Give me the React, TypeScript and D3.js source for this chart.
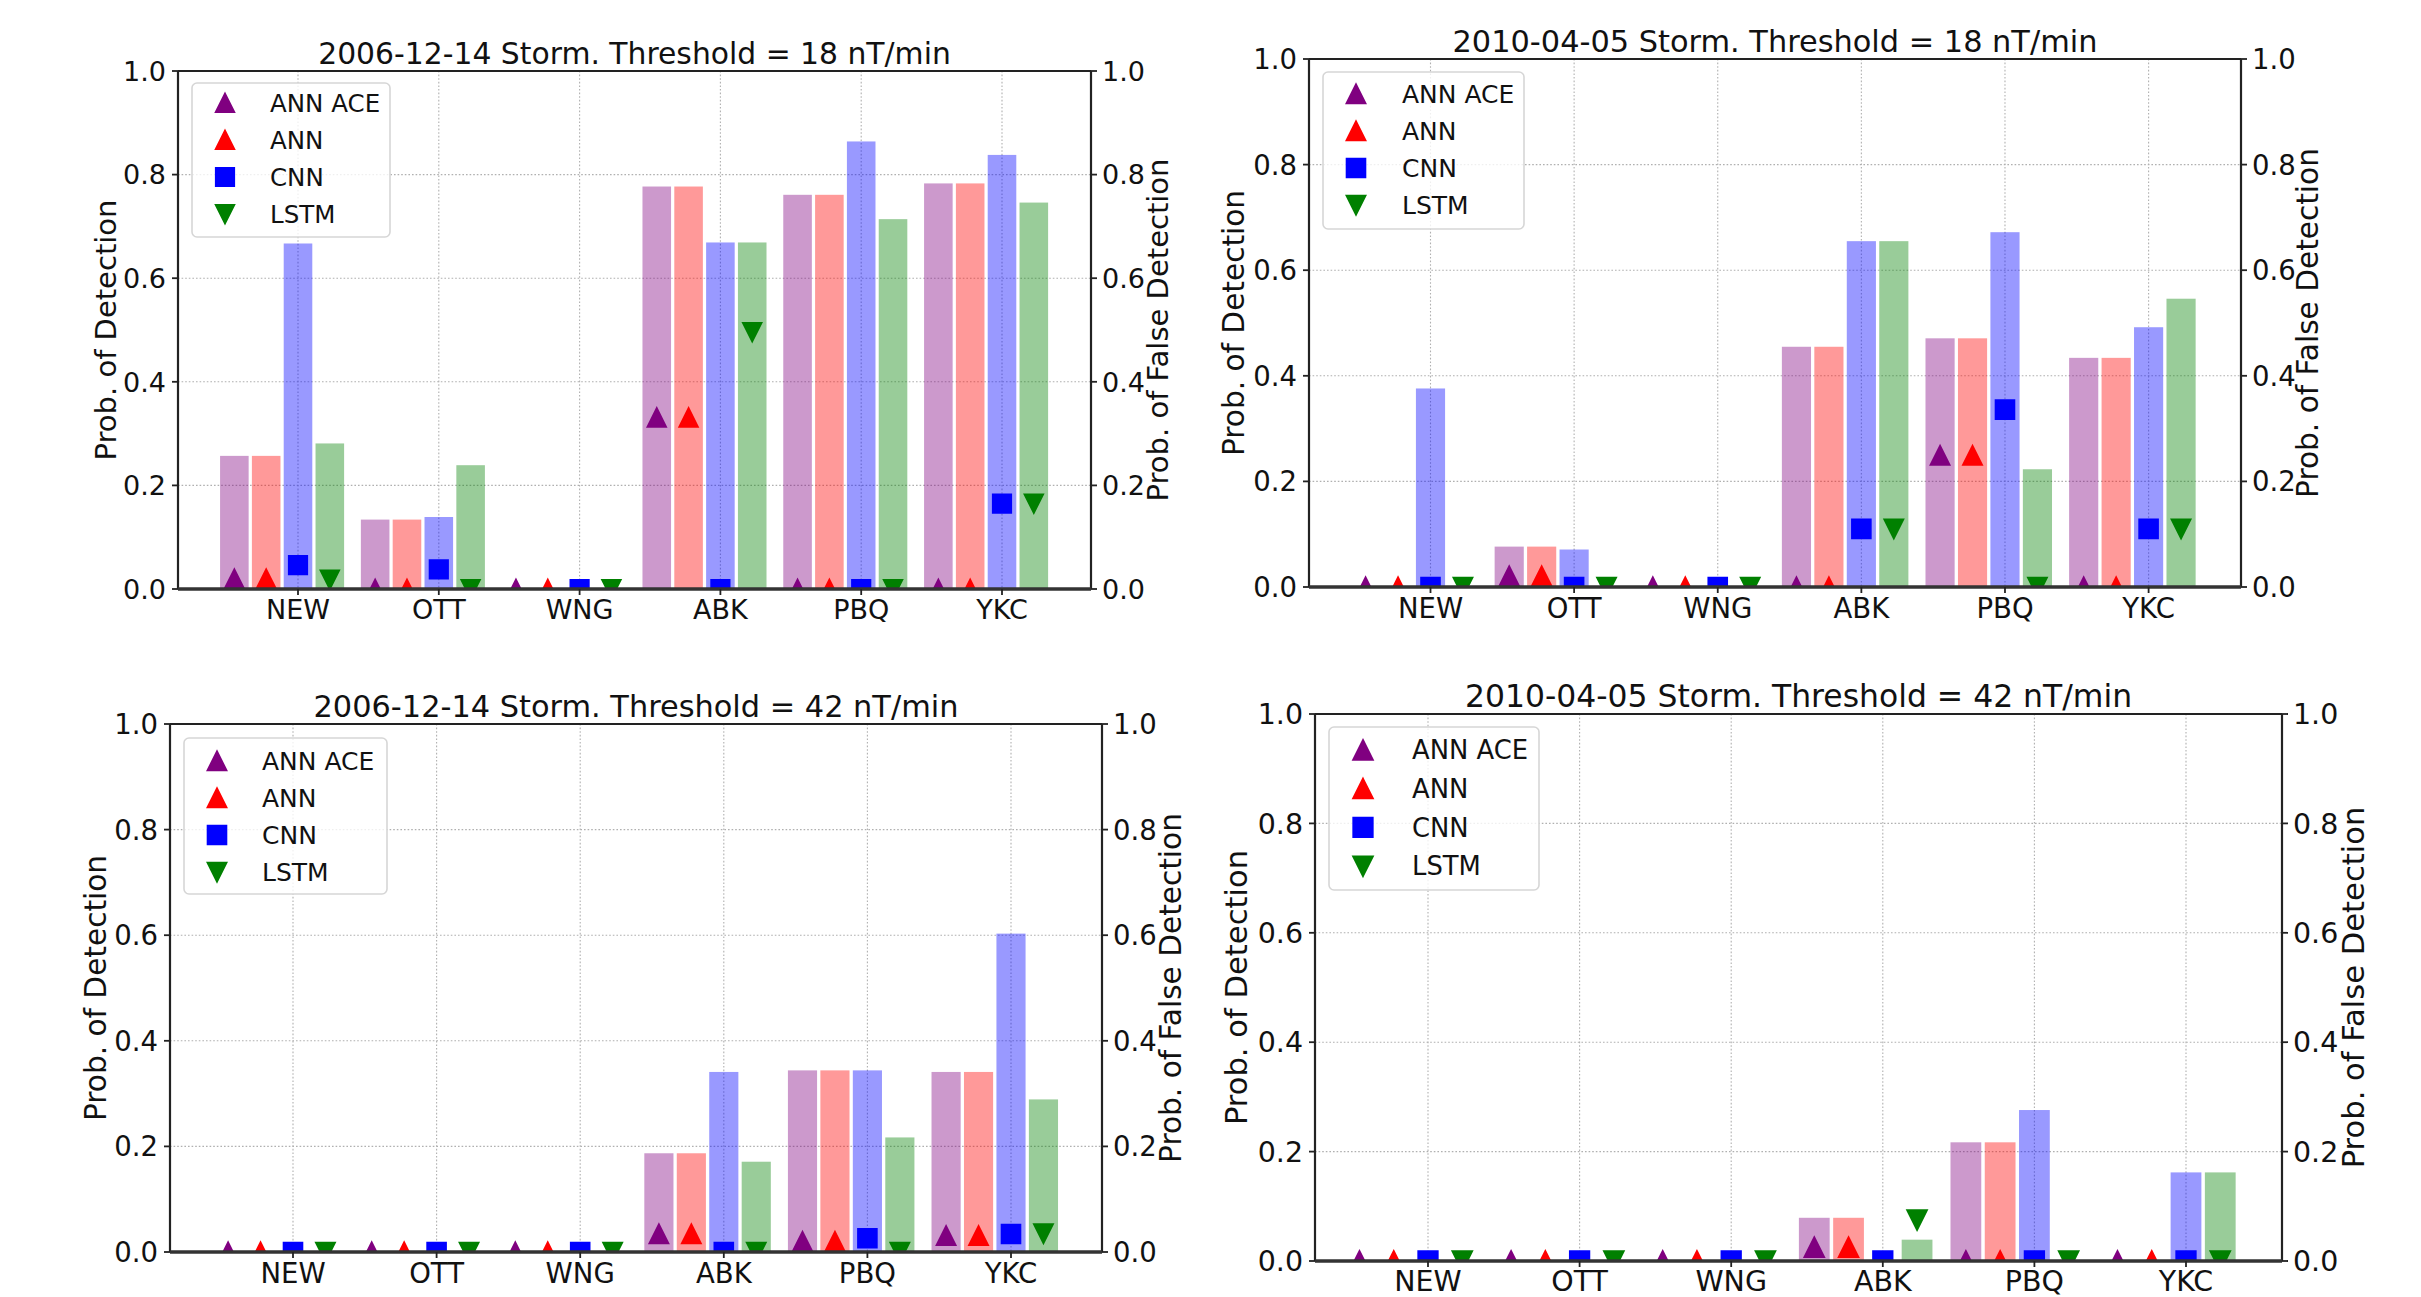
import React from "react";
import * as d3 from "d3";

// ---------- data ----------
const stations = ["NEW", "OTT", "WNG", "ABK", "PBQ", "YKC"];
const models = ["ANN ACE", "ANN", "CNN", "LSTM"];
const modelColors = ["#800080", "#ff0000", "#0000ff", "#008000"];
const modelShapes = ["up", "up", "square", "down"];
const yTicks = [0, 0.2, 0.4, 0.6, 0.8, 1.0];

const titles = [
  "2006-12-14 Storm. Threshold = 18 nT/min",
  "2010-04-05 Storm. Threshold = 18 nT/min",
  "2006-12-14 Storm. Threshold = 42 nT/min",
  "2010-04-05 Storm. Threshold = 42 nT/min",
];

// Panel A: 2006-12-14, 18 nT/min  (bars = Prob. of Detection, markers = Prob. of False Detection)
const podA_annAce = [0.257, 0.134, 0, 0.777, 0.761, 0.783];
const podA_ann = [0.257, 0.134, 0, 0.777, 0.761, 0.783];
const podA_cnn = [0.667, 0.139, 0, 0.669, 0.864, 0.838];
const podA_lstm = [0.281, 0.239, 0, 0.669, 0.714, 0.746];
const pofdA_annAce = [0.02, 0, 0, 0.331, 0, 0];
const pofdA_ann = [0.02, 0, 0, 0.331, 0, 0];
const pofdA_cnn = [0.046, 0.038, 0, 0, 0, 0.165];
const pofdA_lstm = [0.018, 0, 0, 0.496, 0, 0.165];

// Panel B: 2010-04-05, 18 nT/min
const podB_annAce = [0, 0.0765, 0, 0.455, 0.471, 0.434];
const podB_ann = [0, 0.0765, 0, 0.455, 0.471, 0.434];
const podB_cnn = [0.376, 0.071, 0, 0.655, 0.672, 0.492];
const podB_lstm = [0, 0, 0, 0.655, 0.223, 0.546];
const pofdB_annAce = [0, 0.021, 0, 0, 0.249, 0];
const pofdB_ann = [0, 0.021, 0, 0, 0.249, 0];
const pofdB_cnn = [0, 0, 0, 0.11, 0.336, 0.11];
const pofdB_lstm = [0, 0, 0, 0.11, 0, 0.11];

// Panel C: 2006-12-14, 42 nT/min
const podC_annAce = [0, 0, 0, 0.187, 0.344, 0.341];
const podC_ann = [0, 0, 0, 0.187, 0.344, 0.341];
const podC_cnn = [0, 0, 0, 0.341, 0.344, 0.603];
const podC_lstm = [0, 0, 0, 0.171, 0.217, 0.289];
const pofdC_annAce = [0, 0, 0, 0.034, 0.02, 0.031];
const pofdC_ann = [0, 0, 0, 0.034, 0.02, 0.031];
const pofdC_cnn = [0, 0, 0, 0, 0.026, 0.034];
const pofdC_lstm = [0, 0, 0, 0, 0, 0.035];

// Panel D: 2010-04-05, 42 nT/min
const podD_annAce = [0, 0, 0, 0.079, 0.217, 0];
const podD_ann = [0, 0, 0, 0.079, 0.217, 0];
const podD_cnn = [0, 0, 0, 0, 0.276, 0.162];
const podD_lstm = [0, 0, 0, 0.039, 0, 0.162];
const pofdD_annAce = [0, 0, 0, 0.025, 0, 0];
const pofdD_ann = [0, 0, 0, 0.025, 0, 0];
const pofdD_cnn = [0, 0, 0, 0, 0, 0];
const pofdD_lstm = [0, 0, 0, 0.075, 0, 0];

const podSets = [
  [podA_annAce, podA_ann, podA_cnn, podA_lstm],
  [podB_annAce, podB_ann, podB_cnn, podB_lstm],
  [podC_annAce, podC_ann, podC_cnn, podC_lstm],
  [podD_annAce, podD_ann, podD_cnn, podD_lstm],
];
const pofdSets = [
  [pofdA_annAce, pofdA_ann, pofdA_cnn, pofdA_lstm],
  [pofdB_annAce, pofdB_ann, pofdB_cnn, pofdB_lstm],
  [pofdC_annAce, pofdC_ann, pofdC_cnn, pofdC_lstm],
  [pofdD_annAce, pofdD_ann, pofdD_cnn, pofdD_lstm],
];

// ---------- layout ----------
const W = 2421;
const H = 1297;
const FONT = "'DejaVu Sans', 'Liberation Sans', sans-serif";

// legend offsets (row0, mx, tx) are measured from the axes' top-left corner
const layouts = [
  { x0: 178, x1: 1091, y0: 71, y1: 589, xFirst: 298, xLast: 1002, lx: 106, rx: 1158, s: 1.0,
    leg: { dx: 14, dy: 12, w: 198, h: 154, row0: 32, step: 37, mx: 47, tx: 92 } },
  { x0: 1309, x1: 2241, y0: 59, y1: 587, xFirst: 1430.5, xLast: 2148.6, lx: 1233, rx: 2307, s: 1.02,
    leg: { dx: 14, dy: 13, w: 201, h: 157, row0: 35, step: 37, mx: 47, tx: 93 } },
  { x0: 170, x1: 1102, y0: 724, y1: 1252, xFirst: 293, xLast: 1011, lx: 95, rx: 1170, s: 1.02,
    leg: { dx: 14, dy: 14, w: 203, h: 156, row0: 37, step: 37, mx: 47, tx: 92 } },
  { x0: 1315, x1: 2282, y0: 714, y1: 1261, xFirst: 1428, xLast: 2186, lx: 1236, rx: 2353, s: 1.055,
    leg: { dx: 14, dy: 13, w: 210, h: 163, row0: 36, step: 38.7, mx: 48, tx: 97 } },
];

const BAR_STEP = 0.226;
const BAR_W = 0.203;

function markerPath(shape: string, m: number): string {
  const h = m / 2;
  if (shape === "up") return `M0,${-h}L${h},${h}L${-h},${h}Z`;
  if (shape === "down") return `M0,${h}L${h},${-h}L${-h},${-h}Z`;
  return `M${-h},${-h}L${h},${-h}L${h},${h}L${-h},${h}Z`;
}

function Panel({ idx }: { idx: number }) {
  const L = layouts[idx];
  const s = L.s;
  const pod = podSets[idx];
  const pofd = pofdSets[idx];
  const x = d3.scaleLinear().domain([0, stations.length - 1]).range([L.xFirst, L.xLast]);
  const y = d3.scaleLinear().domain([0, 1]).range([L.y1, L.y0]);
  const yR = d3.scaleLinear().domain([0, 1]).range([L.y1, L.y0]);
  const fmt = d3.format(".1f");
  const clipId = `clip${idx}`;
  const m = 18 * s;
  const tickFs = 27 * s;
  const labelFs = 29 * s;
  const titleFs = 29.8 * s;
  const legFs = 24.5 * s;
  const cy = (L.y0 + L.y1) / 2;

  return (
    <g>
      <defs>
        <clipPath id={clipId}>
          <rect x={L.x0} y={L.y0} width={L.x1 - L.x0} height={L.y1 - L.y0} />
        </clipPath>
      </defs>
      {/* grid */}
      {yTicks.map((t) => (
        <line key={"gy" + t} x1={L.x0} x2={L.x1} y1={y(t)} y2={y(t)}
          stroke="#b0b0b0" strokeWidth={1.1} strokeDasharray="1.6,2" />
      ))}
      {stations.map((st, i) => (
        <line key={"gx" + st} x1={x(i)} x2={x(i)} y1={L.y0} y2={L.y1}
          stroke="#b0b0b0" strokeWidth={1.1} strokeDasharray="1.6,2" />
      ))}
      {/* bars */}
      {models.map((md, j) =>
        pod[j].map((v, i) => {
          const xc = x(i + (j - 2) * BAR_STEP);
          const bw = x(BAR_W) - x(0);
          return (
            <rect key={md + i} x={xc - bw / 2} y={y(v)} width={bw} height={y(0) - y(v)}
              fill={modelColors[j]} fillOpacity={0.4} />
          );
        })
      )}
      {/* markers */}
      <g clipPath={`url(#${clipId})`}>
        {models.map((md, j) =>
          pofd[j].map((v, i) => {
            const xc = x(i + (j - 2) * BAR_STEP);
            return (
              <path key={"m" + md + i} d={markerPath(modelShapes[j], m)}
                transform={`translate(${xc},${yR(v)})`} fill={modelColors[j]}
                stroke={modelColors[j]} strokeWidth={2.2 * s} strokeLinejoin="miter" />
            );
          })
        )}
      </g>
      {/* spines */}
      <line x1={L.x0} x2={L.x1} y1={L.y0} y2={L.y0} stroke="#222" strokeWidth={2.2} />
      <line x1={L.x0} x2={L.x0} y1={L.y0} y2={L.y1} stroke="#222" strokeWidth={2.2} />
      <line x1={L.x1} x2={L.x1} y1={L.y0} y2={L.y1} stroke="#222" strokeWidth={2.2} />
      <line x1={L.x0} x2={L.x1} y1={L.y1} y2={L.y1} stroke="#333" strokeWidth={3.6} />
      {/* y ticks left */}
      {yTicks.map((t) => (
        <g key={"yl" + t}>
          <line x1={L.x0 - 6} x2={L.x0} y1={y(t)} y2={y(t)} stroke="#222" strokeWidth={1.8} />
          <text x={L.x0 - 12} y={y(t)} dy="0.36em" textAnchor="end" fontSize={tickFs}
            fontFamily={FONT} fill="#111">{fmt(t)}</text>
        </g>
      ))}
      {/* y ticks right */}
      {yTicks.map((t) => (
        <g key={"yr" + t}>
          <line x1={L.x1} x2={L.x1 + 6} y1={yR(t)} y2={yR(t)} stroke="#222" strokeWidth={1.8} />
          <text x={L.x1 + 11} y={yR(t)} dy="0.36em" textAnchor="start" fontSize={tickFs}
            fontFamily={FONT} fill="#111">{fmt(t)}</text>
        </g>
      ))}
      {/* x ticks */}
      {stations.map((st, i) => (
        <g key={"xt" + st}>
          <line x1={x(i)} x2={x(i)} y1={L.y1} y2={L.y1 + 6} stroke="#222" strokeWidth={1.8} />
          <text x={x(i)} y={Math.min(L.y1 + 30 * s, H - 6)} textAnchor="middle" fontSize={tickFs}
            fontFamily={FONT} fill="#111">{st}</text>
        </g>
      ))}
      {/* title */}
      <text x={(L.x0 + L.x1) / 2} y={L.y0 - 7} textAnchor="middle" fontSize={titleFs}
        fontFamily={FONT} fill="#111">{titles[idx]}</text>
      {/* axis labels */}
      <text transform={`translate(${L.lx},${cy}) rotate(-90)`} textAnchor="middle" dy="0.36em"
        fontSize={labelFs} fontFamily={FONT} fill="#111">Prob. of Detection</text>
      <text transform={`translate(${L.rx},${cy}) rotate(-90)`} textAnchor="middle" dy="0.36em"
        fontSize={labelFs} fontFamily={FONT} fill="#111">Prob. of False Detection</text>
      {/* legend */}
      <g transform={`translate(${L.x0 + L.leg.dx},${L.y0 + L.leg.dy})`}>
        <rect x={0} y={0} width={L.leg.w} height={L.leg.h} rx={5} ry={5}
          fill="#ffffff" fillOpacity={0.8} stroke="#d6d6d6" strokeWidth={1.6} />
        {models.map((md, j) => {
          const ry = L.leg.row0 + j * L.leg.step - L.leg.dy;
          return (
            <g key={"lg" + md}>
              <path d={markerPath(modelShapes[j], m)}
                transform={`translate(${L.leg.mx - L.leg.dx},${ry})`}
                fill={modelColors[j]} stroke={modelColors[j]} strokeWidth={2.2 * s} />
              <text x={L.leg.tx - L.leg.dx} y={ry} dy="0.36em" fontSize={legFs}
                fontFamily={FONT} fill="#111">{md}</text>
            </g>
          );
        })}
      </g>
    </g>
  );
}

export default function App() {
  return (
    <svg width={W} height={H} viewBox={`0 0 ${W} ${H}`}
      style={{ position: "absolute", left: 0, top: 0, display: "block", background: "#fff" }}>
      <rect x={0} y={0} width={W} height={H} fill="#fff" />
      {layouts.map((_, i) => (
        <Panel key={i} idx={i} />
      ))}
    </svg>
  );
}
